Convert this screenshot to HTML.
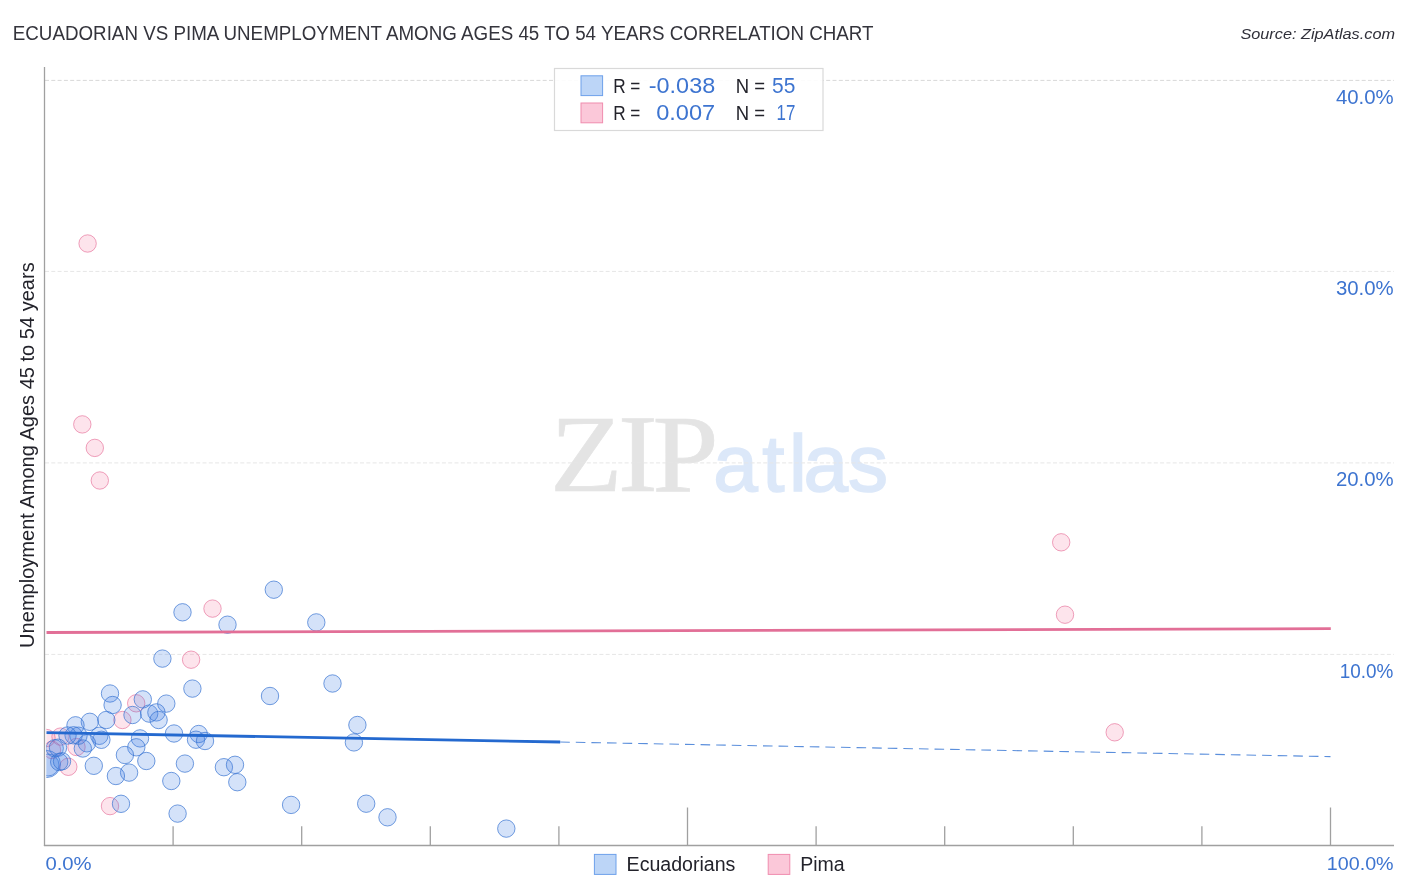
<!DOCTYPE html>
<html lang="en"><head><meta charset="utf-8">
<title>Ecuadorian vs Pima Unemployment Among Ages 45 to 54 years Correlation Chart</title>
<style>
html,body{margin:0;padding:0;background:#fff;}
body{width:1406px;height:892px;overflow:hidden;position:relative;font-family:"Liberation Sans",sans-serif;}
svg{position:absolute;left:0;top:0;display:block;}
text{font-family:"Liberation Sans",sans-serif;}
.ser{font-family:"Liberation Serif",serif;}
.bl{fill:#3d74d0;}
.dk{fill:#23232b;}
</style></head><body>
<svg width="1406" height="892" viewBox="0 0 1406 892">
<rect width="1406" height="892" fill="#ffffff"/>

<g id="watermark"><text class="ser" transform="translate(549.9,491) scale(1.08,1)" x="0 63.15 95" y="0" font-size="110" fill="#e4e4e4" stroke="#e4e4e4" stroke-width="0.7">ZIP</text>
<text x="713.2 762.2 789 803.4 848" y="491" font-size="80" fill="#dce8f9" stroke="#dce8f9" stroke-width="1.6">atlas</text></g>

<g stroke-width="1" stroke-dasharray="4 2.3" fill="none">
<line x1="45" y1="80.4" x2="1394" y2="80.4" stroke="#d8d8d8"/>
<line x1="45" y1="271.4" x2="1394" y2="271.4" stroke="#e6e6e6"/>
<line x1="45" y1="462.9" x2="1394" y2="462.9" stroke="#e6e6e6"/>
<line x1="45" y1="654.4" x2="1394" y2="654.4" stroke="#e6e6e6"/>
</g>

<g stroke="#a0a0a0" stroke-width="1.3" fill="none">
<line x1="44.5" y1="67" x2="44.5" y2="846.1"/>
<line x1="43.9" y1="845.5" x2="1394" y2="845.5"/>
<line x1="173.1" y1="826.3" x2="173.1" y2="845.5"/>
<line x1="301.7" y1="826.3" x2="301.7" y2="845.5"/>
<line x1="430.3" y1="826.3" x2="430.3" y2="845.5"/>
<line x1="558.9" y1="826.3" x2="558.9" y2="845.5"/>
<line x1="687.5" y1="807.5" x2="687.5" y2="845.5"/>
<line x1="816.1" y1="826.3" x2="816.1" y2="845.5"/>
<line x1="944.7" y1="826.3" x2="944.7" y2="845.5"/>
<line x1="1073.3" y1="826.3" x2="1073.3" y2="845.5"/>
<line x1="1201.9" y1="826.3" x2="1201.9" y2="845.5"/>
<line x1="1330.5" y1="807.5" x2="1330.5" y2="845.5"/>
</g>

<defs><clipPath id="plot"><rect x="46.3" y="60" width="1350" height="784.5"/></clipPath></defs>

<g clip-path="url(#plot)">
<g fill="rgba(245,110,155,0.19)" stroke="rgba(228,100,145,0.6)" stroke-width="1">
<circle cx="87.6" cy="243.5" r="8.7"/>
<circle cx="82.3" cy="424.4" r="8.7"/>
<circle cx="94.8" cy="447.9" r="8.7"/>
<circle cx="99.8" cy="480.5" r="8.7"/>
<circle cx="212.5" cy="608.6" r="8.7"/>
<circle cx="191.1" cy="659.7" r="8.7"/>
<circle cx="1061.2" cy="542.3" r="8.7"/>
<circle cx="1065" cy="614.7" r="8.7"/>
<circle cx="1114.7" cy="732.3" r="8.7"/>
<circle cx="136.2" cy="703.3" r="8.7"/>
<circle cx="122.4" cy="720" r="8.7"/>
<circle cx="110" cy="806.1" r="8.7"/>
<circle cx="68.3" cy="766.8" r="8.7"/>
<circle cx="76.5" cy="747" r="8.7"/>
<circle cx="60.5" cy="736.6" r="8.7"/>
<circle cx="52" cy="750" r="8.7"/>
<circle cx="46.5" cy="738" r="8.7"/>
</g>
<g fill="rgba(70,130,230,0.23)" stroke="rgba(55,115,210,0.7)" stroke-width="1">
<circle cx="48" cy="765" r="11"/>
<circle cx="47" cy="764" r="13.5"/>
<circle cx="110" cy="693.5" r="8.7"/>
<circle cx="112.6" cy="705" r="8.7"/>
<circle cx="142.8" cy="699.4" r="8.7"/>
<circle cx="166.3" cy="703.6" r="8.7"/>
<circle cx="192.4" cy="688.6" r="8.7"/>
<circle cx="270" cy="696" r="8.7"/>
<circle cx="132.5" cy="715" r="8.7"/>
<circle cx="149.2" cy="713.6" r="8.7"/>
<circle cx="156.4" cy="712.4" r="8.7"/>
<circle cx="158.6" cy="720" r="8.7"/>
<circle cx="106.3" cy="720" r="8.7"/>
<circle cx="89.8" cy="721.8" r="8.7"/>
<circle cx="75.5" cy="725.3" r="8.7"/>
<circle cx="174" cy="733.5" r="8.7"/>
<circle cx="198.7" cy="734" r="8.7"/>
<circle cx="196" cy="739.7" r="8.7"/>
<circle cx="205" cy="741" r="8.7"/>
<circle cx="140" cy="738.4" r="8.7"/>
<circle cx="136.3" cy="747.3" r="8.7"/>
<circle cx="124.9" cy="755" r="8.7"/>
<circle cx="146.3" cy="761" r="8.7"/>
<circle cx="184.9" cy="763.6" r="8.7"/>
<circle cx="223.9" cy="767.2" r="8.7"/>
<circle cx="235" cy="764.8" r="8.7"/>
<circle cx="237.3" cy="782.2" r="8.7"/>
<circle cx="171.3" cy="781" r="8.7"/>
<circle cx="129.1" cy="772.6" r="8.7"/>
<circle cx="115.9" cy="776" r="8.7"/>
<circle cx="93.8" cy="765.8" r="8.7"/>
<circle cx="121" cy="803.8" r="8.7"/>
<circle cx="177.6" cy="813.6" r="8.7"/>
<circle cx="99.3" cy="735.8" r="8.7"/>
<circle cx="101.4" cy="739.8" r="8.7"/>
<circle cx="86.9" cy="743.3" r="8.7"/>
<circle cx="82.8" cy="748.5" r="8.7"/>
<circle cx="78.5" cy="735.7" r="8.7"/>
<circle cx="73.6" cy="735.3" r="8.7"/>
<circle cx="67.5" cy="735.5" r="8.7"/>
<circle cx="54.7" cy="748.3" r="8.7"/>
<circle cx="58" cy="747.7" r="8.7"/>
<circle cx="59.2" cy="762" r="8.7"/>
<circle cx="62" cy="761.3" r="8.7"/>
<circle cx="273.8" cy="589.7" r="8.7"/>
<circle cx="182.5" cy="612.3" r="8.7"/>
<circle cx="227.5" cy="624.7" r="8.7"/>
<circle cx="316.3" cy="622.4" r="8.7"/>
<circle cx="162.4" cy="658.6" r="8.7"/>
<circle cx="332.5" cy="683.5" r="8.7"/>
<circle cx="357.4" cy="725" r="8.7"/>
<circle cx="353.9" cy="742.4" r="8.7"/>
<circle cx="291.1" cy="804.9" r="8.7"/>
<circle cx="366.2" cy="803.7" r="8.7"/>
<circle cx="387.5" cy="817.3" r="8.7"/>
<circle cx="506.3" cy="828.6" r="8.7"/>
</g>
<line x1="46.3" y1="632.5" x2="1330.8" y2="628.6" stroke="#e26f97" stroke-width="2.8"/>
<line x1="46.3" y1="732.7" x2="560.2" y2="742" stroke="#2469cf" stroke-width="2.8"/>
<line x1="560.2" y1="742" x2="1330.5" y2="756.6" stroke="#5b8fdc" stroke-width="1.1" stroke-dasharray="9.6 6"/>
</g>

<rect x="554.5" y="68.5" width="268.5" height="62" fill="rgba(255,255,255,0.9)" stroke="#d9d9d9" stroke-width="1.2"/>
<rect x="581" y="75.8" width="21.6" height="19.8" fill="#bcd5f7" stroke="#6da0ea" stroke-width="1"/>
<rect x="581" y="103" width="21.6" height="19.8" fill="#fbc8d9" stroke="#f08cae" stroke-width="1"/>
<g font-size="20">
<text class="dk" x="613.2" y="93.4" textLength="27.2" lengthAdjust="spacingAndGlyphs">R =</text>
<text class="bl" x="648.8" y="93.4" font-size="22.3" textLength="66.4" lengthAdjust="spacingAndGlyphs">-0.038</text>
<text class="dk" x="735.8" y="93.4" textLength="29.3" lengthAdjust="spacingAndGlyphs">N =</text>
<text class="bl" x="772" y="93.4" font-size="22.3" textLength="23.3" lengthAdjust="spacingAndGlyphs">55</text>
<text class="dk" x="613.2" y="119.7" textLength="27.2" lengthAdjust="spacingAndGlyphs">R =</text>
<text class="bl" x="656.2" y="119.7" font-size="22.3" textLength="59" lengthAdjust="spacingAndGlyphs">0.007</text>
<text class="dk" x="735.8" y="119.7" textLength="29.3" lengthAdjust="spacingAndGlyphs">N =</text>
<text class="bl" x="776.5" y="119.7" font-size="22.3" textLength="18.8" lengthAdjust="spacingAndGlyphs">17</text>
</g>

<rect x="594.4" y="854.4" width="21.6" height="20" fill="#bcd5f7" stroke="#6da0ea" stroke-width="1"/>
<text class="dk" x="626.6" y="870.9" font-size="19.5" textLength="108.8" lengthAdjust="spacingAndGlyphs">Ecuadorians</text>
<rect x="768.2" y="854.4" width="21.6" height="20" fill="#fbc8d9" stroke="#f08cae" stroke-width="1"/>
<text class="dk" x="800.2" y="870.9" font-size="19.5" textLength="44.5" lengthAdjust="spacingAndGlyphs">Pima</text>

<g class="bl" font-size="19.5">
<text x="45.4" y="870.2" font-size="18.9" textLength="46.2" lengthAdjust="spacingAndGlyphs">0.0%</text>
<text x="1326.8" y="870" font-size="18.9" textLength="66.8" lengthAdjust="spacingAndGlyphs">100.0%</text>
<text x="1335.9" y="103.6" textLength="57.7" lengthAdjust="spacingAndGlyphs">40.0%</text>
<text x="1335.9" y="294.6" textLength="57.7" lengthAdjust="spacingAndGlyphs">30.0%</text>
<text x="1335.9" y="486.1" textLength="57.7" lengthAdjust="spacingAndGlyphs">20.0%</text>
<text x="1339.8" y="677.7" textLength="53.6" lengthAdjust="spacingAndGlyphs">10.0%</text>
</g>

<text class="dk" transform="translate(33.6,647.9) rotate(-90)" font-size="20.8" textLength="385.6" lengthAdjust="spacingAndGlyphs">Unemployment Among Ages 45 to 54 years</text>

<text x="12.75" y="40.2" font-size="19.6" fill="#34343c" textLength="860.8" lengthAdjust="spacingAndGlyphs">ECUADORIAN VS PIMA UNEMPLOYMENT AMONG AGES 45 TO 54 YEARS CORRELATION CHART</text>

<text x="1240.4" y="38.9" font-size="14.4" font-style="italic" fill="#30303a" textLength="154.6" lengthAdjust="spacingAndGlyphs">Source: ZipAtlas.com</text>

</svg>
</body></html>
